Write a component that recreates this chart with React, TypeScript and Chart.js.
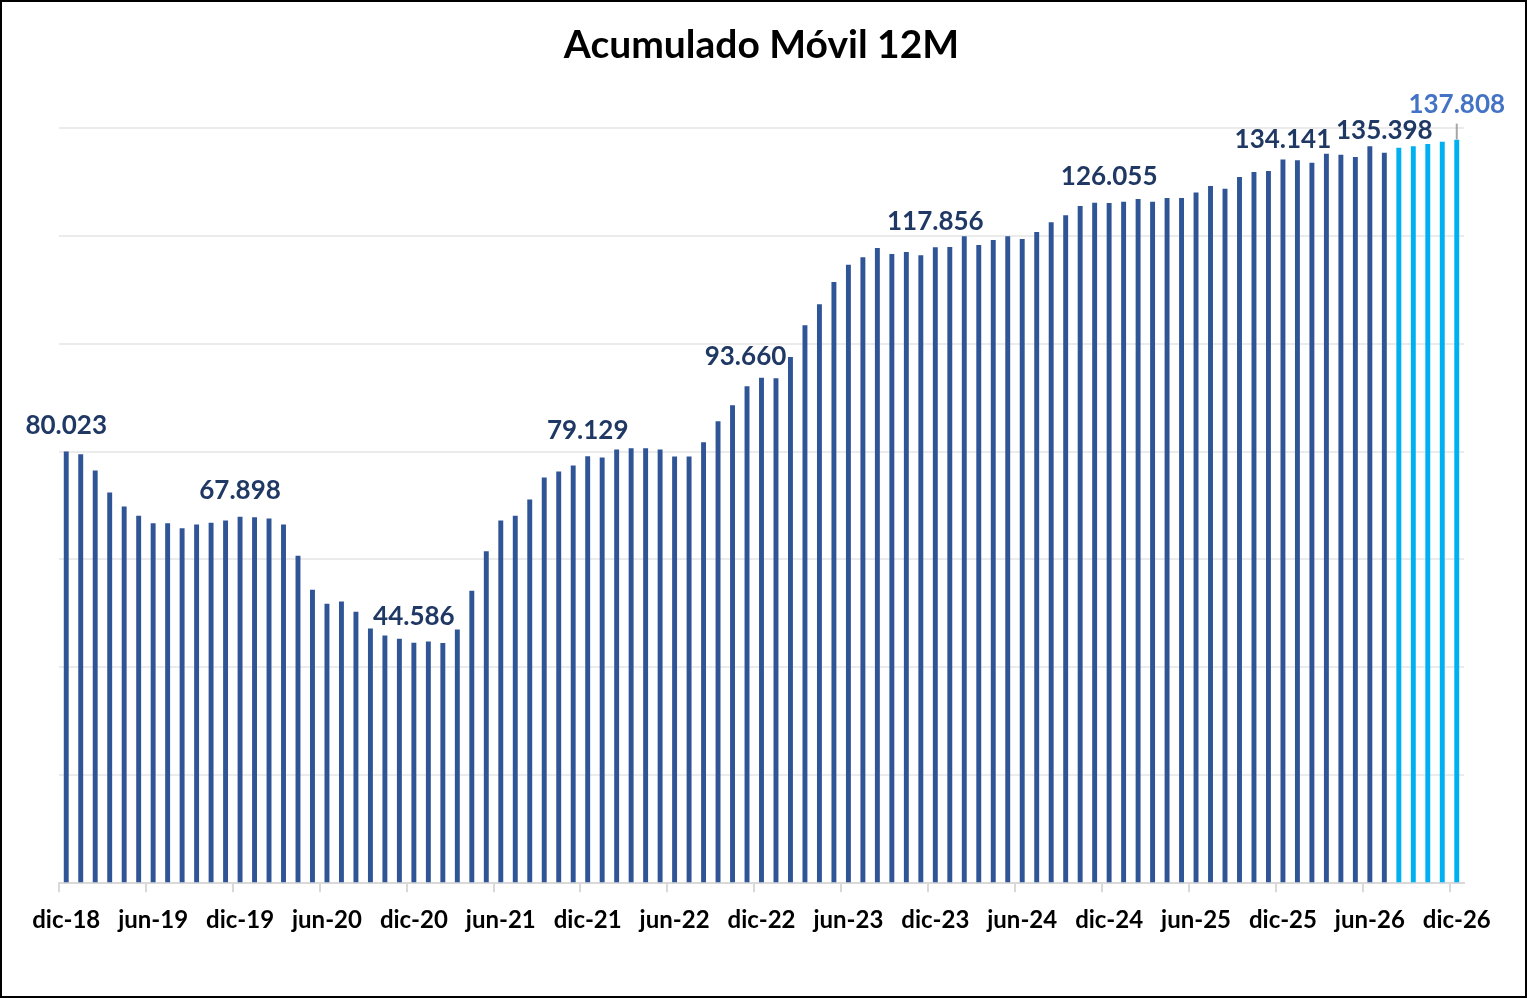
import { useEffect, useRef } from "react";
import { Chart, registerables } from "chart.js";
import type { Plugin } from "chart.js";

Chart.register(...registerables);

// monthly categories, dic-18 .. dic-26
const months = [
  "dic-18",
  "ene-19", "feb-19", "mar-19", "abr-19", "may-19", "jun-19", "jul-19", "ago-19", "sep-19", "oct-19", "nov-19", "dic-19",
  "ene-20", "feb-20", "mar-20", "abr-20", "may-20", "jun-20", "jul-20", "ago-20", "sep-20", "oct-20", "nov-20", "dic-20",
  "ene-21", "feb-21", "mar-21", "abr-21", "may-21", "jun-21", "jul-21", "ago-21", "sep-21", "oct-21", "nov-21", "dic-21",
  "ene-22", "feb-22", "mar-22", "abr-22", "may-22", "jun-22", "jul-22", "ago-22", "sep-22", "oct-22", "nov-22", "dic-22",
  "ene-23", "feb-23", "mar-23", "abr-23", "may-23", "jun-23", "jul-23", "ago-23", "sep-23", "oct-23", "nov-23", "dic-23",
  "ene-24", "feb-24", "mar-24", "abr-24", "may-24", "jun-24", "jul-24", "ago-24", "sep-24", "oct-24", "nov-24", "dic-24",
  "ene-25", "feb-25", "mar-25", "abr-25", "may-25", "jun-25", "jul-25", "ago-25", "sep-25", "oct-25", "nov-25", "dic-25",
  "ene-26", "feb-26", "mar-26", "abr-26", "may-26", "jun-26", "jul-26", "ago-26", "sep-26", "oct-26", "nov-26", "dic-26",
];

// real data, dic-18 .. jul-26
const actual = [
  80023,
  79500, 76500, 72400, 69800, 68100, 66700, 66700, 65800, 66500, 66800, 67200, 67898,
  67800, 67600, 66500, 60700, 54400, 51800, 52200, 50300, 47200, 45900, 45300, 44586,
  44800, 44500, 47000, 54200, 61500, 67200, 68100, 71100, 75200, 76300, 77400, 79129,
  78900, 80400, 80600, 80600, 80400, 79100, 79100, 81700, 85600, 88600, 92100, 93660,
  93600, 97500, 103400, 107300, 111400, 114600, 116000, 117700, 116600, 117000, 116400, 117856,
  117900, 119900, 118300, 119200, 119900, 119400, 120700, 122500, 123800, 125500, 126100, 126055,
  126300, 126800, 126300, 127000, 127000, 128000, 129200, 128700, 130900, 131800, 132000, 134141,
  134000, 133500, 135200, 135000, 134600, 136600, 135398,
];

// projection, ago-26 .. dic-26
const projected = [136300, 136600, 137000, 137400, 137808];

// bars that carry a value label
const labeled = [0, 12, 24, 36, 48, 60, 72, 84, 91, 96];

const values = [...actual, ...projected];

function fmt(v: number) {
  return String(Math.round(v)).replace(/\B(?=(\d{3})+(?!\d))/g, ".");
}

const valueLabels: Plugin<"bar"> = {
  id: "valueLabels",
  afterDatasetsDraw(chart) {
    const meta = chart.getDatasetMeta(0);
    const ctx = chart.ctx;
    ctx.save();
    ctx.font = "bold 26px Lato";
    ctx.textAlign = "center";
    ctx.textBaseline = "middle";
    const last = values.length - 1;
    labeled.forEach((i) => {
      const bar = meta.data[i] as any;
      if (!bar) return;
      let dx = 0;
      let dy = -26;
      if (i === 48) { dx = -16; dy = -21; }
      if (i === 84) dy = -20;
      if (i === 91) dy = -22;
      if (i === last) {
        dy = -35;
        ctx.strokeStyle = "#A6A6A6";
        ctx.lineWidth = 2;
        ctx.beginPath();
        ctx.moveTo(bar.x, bar.y);
        ctx.lineTo(bar.x, bar.y - 16);
        ctx.stroke();
      }
      ctx.fillStyle = i === last ? "#4472C4" : "#1F3864";
      ctx.fillText(fmt(values[i]), bar.x + dx, bar.y + dy);
    });
    ctx.restore();
  },
};

export default function App() {
  const ref = useRef<HTMLCanvasElement>(null);

  useEffect(() => {
    if (!ref.current) return;
    Chart.defaults.font.family = "Lato";
    const chart = new Chart(ref.current, {
      type: "bar",
      plugins: [valueLabels],
      data: {
        labels: months,
        datasets: [
          {
            data: values,
            backgroundColor: (c: any) => (c.dataIndex < actual.length ? "#2F5597" : "#00B0F0"),
            borderWidth: 0,
            barPercentage: 0.34,
            categoryPercentage: 1,
          },
        ],
      },
      options: {
        animation: false,
        responsive: true,
        maintainAspectRatio: false,
        layout: { padding: { left: 57, right: 61, top: 0, bottom: 47 } },
        plugins: {
          legend: { display: false },
          tooltip: { enabled: false },
          title: {
            display: true,
            text: "Acumulado Móvil 12M",
            color: "#000",
            font: { size: 39, weight: "bold", family: "Lato" },
            padding: { top: 20, bottom: 59 },
          },
        },
        scales: {
          x: {
            grid: {
              display: true,
              drawOnChartArea: false,
              drawTicks: true,
              tickLength: 9,
              lineWidth: 2,
              color: (c: any) => (c.index % 6 === 0 ? "#D9D9D9" : "rgba(0,0,0,0)"),
            },
            border: { display: true, color: "#D9D9D9", width: 2 },
            ticks: {
              autoSkip: false,
              maxRotation: 0,
              padding: 14,
              color: "#000",
              font: { size: 24, weight: "bold", family: "Lato" },
              callback: (_v: any, i: number) => (i % 6 === 0 ? months[i] : ""),
            },
          },
          y: {
            min: 0,
            max: 140000,
            ticks: { display: false, stepSize: 20000 },
            grid: { color: "#EBEBEB", lineWidth: 2, drawTicks: false },
            border: { display: false },
          },
        },
      },
    });
    return () => chart.destroy();
  }, []);

  return (
    <div
      style={{
        position: "fixed",
        top: 0,
        left: 0,
        width: 1527,
        height: 998,
        border: "2px solid #000",
        boxSizing: "border-box",
        background: "#fff",
      }}
    >
      <div style={{ position: "relative", width: 1523, height: 994 }}>
        <canvas ref={ref} />
      </div>
    </div>
  );
}
